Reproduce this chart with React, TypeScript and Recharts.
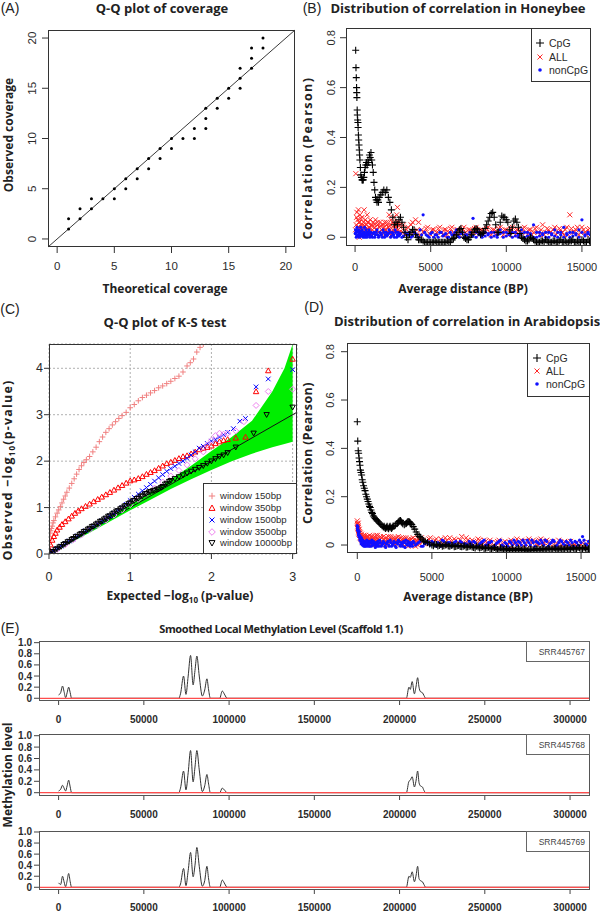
import React from 'react';
import { ScatterChart, ComposedChart, LineChart, Scatter, Line, Area, XAxis, YAxis, CartesianGrid, ReferenceLine } from 'recharts';

type Pt = [number, number];

// ---------- Panel A: Q-Q plot of coverage ----------
const qqCoverage: Pt[] = [[1,1],[1,2],[2,2],[2,3],[3,3],[3,4],[4,4],[5,4],[5,5],[6,5],[6,6],[7,6],[7,7],[8,7],[8,8],[9,8],[9,9],[10,9],[10,10],[11,10],[12,10],[12,11],[13,11],[13,12],[13,13],[14,13],[14,14],[15,14],[15,15],[16,15],[16,16],[16,17],[17,17],[17,18],[17,19],[18,19],[18,20]];
const ticksA = [0, 5, 10, 15, 20];

// ---------- Panel B: Honeybee ----------
const cpgBee: Pt[] = [[40,0.75],[60,0.68],[80,0.64],[100,0.6],[110,0.58],[120,0.56],[140,0.51],[150,0.49],[170,0.47],[190,0.46],[200,0.44],[220,0.41],[240,0.39],[260,0.37],[280,0.35],[300,0.33],[320,0.31],[350,0.28],[380,0.25],[420,0.24],[460,0.23],[500,0.23],[540,0.23],[580,0.24],[620,0.26],[660,0.28],[700,0.29],[750,0.3],[800,0.29],[850,0.31],[900,0.3],[950,0.33],[1000,0.32],[1050,0.34],[1100,0.31],[1150,0.29],[1200,0.26],[1250,0.22],[1300,0.19],[1350,0.16],[1400,0.15],[1450,0.14],[1500,0.15],[1550,0.14],[1600,0.16],[1700,0.17],[1800,0.18],[1900,0.19],[2000,0.18],[2100,0.19],[2200,0.16],[2300,0.14],[2400,0.11],[2500,0.08],[2600,0.05],[2700,0.06],[2800,0.05],[2900,0.07],[3000,0.08],[3100,0.06],[3200,0.04],[3300,0.02],[3400,0.0],[3500,-0.01],[3600,0.01],[3700,0.02],[3800,0.03],[3900,0.03],[4000,0.01],[4100,0.0],[4200,-0.01],[4400,-0.01],[4600,-0.02],[4800,-0.02],[5000,-0.02],[5200,-0.02],[5400,-0.02],[5600,-0.02],[5800,-0.02],[6000,-0.02],[6200,-0.02],[6400,-0.01],[6600,0.0],[6800,0.02],[6900,0.03],[7000,0.035],[7100,0.02],[7200,0.0],[7400,-0.01],[7600,0.0],[7800,0.02],[8000,0.035],[8200,0.02],[8300,0.01],[8500,0.02],[8700,0.05],[8900,0.08],[9000,0.095],[9100,0.1],[9200,0.08],[9300,0.05],[9400,0.02],[9500,0.02],[9600,0.06],[9700,0.085],[9800,0.08],[9900,0.08],[10000,0.07],[10100,0.06],[10200,0.03],[10300,0.015],[10400,0.04],[10500,0.065],[10600,0.073],[10700,0.06],[10800,0.04],[10900,0.015],[11000,0.0],[11200,-0.01],[11400,-0.015],[11600,0.0],[11800,-0.01],[12000,-0.02],[12200,-0.02],[12400,-0.015],[12600,-0.01],[12800,-0.02],[13000,-0.02],[13200,-0.015],[13400,-0.02],[13600,-0.01],[13800,-0.02],[14000,-0.02],[14200,-0.015],[14400,-0.01],[14600,-0.02],[14800,-0.02],[15000,-0.01],[15200,-0.02],[15400,-0.01],[15550,-0.02]];
const cpgBeeMore: Pt[] = [[4300,-0.01],[4500,-0.015],[4700,-0.02],[4900,-0.02],[5100,-0.02],[5300,-0.015],[5500,-0.02],[5700,-0.02],[5900,-0.02],[6100,-0.015],[6300,-0.02],[6500,-0.005],[6700,0.01],[7300,-0.005],[7500,-0.01],[7700,0.01],[7900,0.03],[8100,0.03],[8400,0.015],[8600,0.035],[8800,0.065],[11100,-0.005],[11300,-0.015],[11500,-0.01],[11700,-0.005],[11900,-0.015],[12100,-0.02],[12300,-0.015],[12500,-0.02],[12700,-0.015],[12900,-0.02],[13100,-0.015],[13300,-0.02],[13500,-0.015],[13700,-0.02],[13900,-0.015],[14100,-0.02],[14300,-0.015],[14500,-0.02],[14700,-0.015],[14900,-0.02],[15100,-0.015],[15300,-0.02],[15500,-0.015]];
const allBee: Pt[] = [[50,0.255],[80,0.05],[120,0.1],[150,0.02],[180,0.07],[220,0.11],[250,0.04],[280,0.0],[300,0.06],[330,0.09],[360,0.03],[400,0.05],[430,0.01],[460,0.08],[500,0.04],[530,0.02],[560,0.06],[600,0.11],[640,0.03],[680,0.07],[720,0.01],[760,0.05],[800,0.09],[840,0.03],[880,0.06],[920,0.02],[960,0.04],[1000,0.07],[1050,0.01],[1100,0.05],[1150,0.03],[1200,0.06],[1250,0.02],[1300,0.04],[1350,0.07],[1400,0.01],[1450,0.03],[1500,0.05],[1550,0.02],[1600,0.04],[1650,0.06],[1700,0.01],[1750,0.03],[1800,0.05],[1850,0.02],[1900,0.04],[1950,0.06],[2000,0.01],[2050,0.03],[2100,0.05],[2150,0.02],[2200,0.04],[2250,0.09],[2300,0.03],[2350,0.05],[2400,0.01],[2450,0.06],[2500,0.03],[2550,0.08],[2600,0.02],[2650,0.05],[2700,0.04],[2750,0.09],[2800,0.12],[2850,0.03],[2900,0.06],[2950,0.02],[3000,0.04],[3100,0.02],[3200,0.05],[3300,0.01],[3400,0.03],[3500,0.04],[3600,0.02],[3700,0.05],[3800,0.06],[3900,0.02],[4000,0.07],[4100,0.03],[4200,0.06],[4300,0.01],[4400,0.03],[4600,0.02],[4800,0.04],[5000,0.01],[5200,0.03],[5400,0.02],[5600,0.04],[5800,0.01],[6000,0.03],[6200,0.02],[6400,0.04],[6600,0.01],[6800,0.03],[7000,0.02],[7200,0.04],[7400,0.01],[7600,0.03],[7800,0.02],[8000,0.04],[8200,0.01],[8400,0.03],[8600,0.02],[8800,0.04],[9000,0.01],[9200,0.03],[9400,0.02],[9600,0.04],[9800,0.01],[10000,0.03],[10200,0.02],[10400,0.04],[10600,0.01],[10800,0.03],[11000,0.02],[11200,0.04],[11400,0.01],[11600,0.03],[11800,0.02],[12000,0.04],[12200,0.01],[12400,0.05],[12600,0.02],[12800,0.03],[13000,0.01],[13200,0.04],[13400,0.02],[13600,0.03],[13800,0.01],[14000,0.04],[14200,0.09],[14400,0.02],[14600,0.03],[14800,0.01],[15000,0.04],[15200,0.02],[15400,0.03]];
const allBeeMore: Pt[] = [[30,0.03],[100,0.08],[170,0.04],[240,0.06],[310,0.02],[380,0.075],[450,0.03],[520,0.05],[590,0.015],[660,0.045],[740,0.03],[820,0.06],[900,0.04],[980,0.02],[1080,0.045],[1180,0.015],[1280,0.05],[1380,0.03],[1480,0.06],[1580,0.02],[1680,0.045],[1780,0.015],[1880,0.05],[1980,0.03],[2080,0.06],[2180,0.02],[2280,0.045],[2380,0.07],[2480,0.02],[2580,0.05],[2680,0.03],[2780,0.06],[2880,0.02],[2980,0.05],[4500,0.02],[4700,0.035],[4900,0.015],[5100,0.03],[5300,0.01],[5500,0.035],[5700,0.02],[5900,0.03],[6100,0.01],[6300,0.035],[6500,0.02],[6700,0.03],[6900,0.01],[7100,0.035],[7300,0.02],[7500,0.03],[7700,0.01],[7900,0.035],[8100,0.02],[8300,0.03],[8500,0.01],[8700,0.035],[8900,0.02],[9100,0.03],[9300,0.01],[9500,0.035],[9700,0.02],[9900,0.03],[10100,0.01],[10300,0.035],[10500,0.02],[10700,0.03],[10900,0.01],[11100,0.035],[11300,0.02],[11500,0.03],[11700,0.01],[11900,0.035],[12100,0.02],[12300,0.03],[12500,0.01],[12700,0.035],[12900,0.02],[13100,0.03],[13300,0.01],[13500,0.035],[13700,0.02],[13900,0.03],[14100,0.01],[14300,0.035],[14500,0.02],[14700,0.04],[14900,0.02],[15100,0.03],[15300,0.01],[15500,0.035]];
const nonCpgBee: Pt[] = [[30,0.03],[80,0.0],[130,0.04],[180,0.01],[230,0.03],[280,0.0],[330,0.02],[380,0.04],[430,0.01],[480,0.03],[530,0.0],[580,0.02],[630,0.04],[680,0.01],[730,0.03],[780,0.0],[830,0.02],[880,0.01],[930,0.03],[980,0.0],[1050,0.02],[1150,0.0],[1250,0.02],[1350,0.01],[1450,0.03],[1550,0.0],[1650,0.02],[1750,0.01],[1850,0.03],[1950,0.0],[2050,0.02],[2150,0.01],[2250,0.03],[2350,0.0],[2450,0.02],[2550,0.01],[2650,0.03],[2750,0.0],[2850,0.02],[2950,0.01],[3100,0.0],[3300,0.02],[3500,0.01],[3700,0.0],[3900,0.02],[4100,0.01],[4300,0.03],[4500,0.09],[4700,0.01],[4900,0.0],[5100,0.02],[5300,0.01],[5500,0.0],[5700,0.02],[5900,0.01],[6100,0.0],[6300,0.02],[6500,0.01],[6700,0.03],[6900,0.0],[7100,0.02],[7300,0.01],[7500,0.0],[7800,0.076],[8000,0.02],[8200,0.01],[8400,0.0],[8600,0.02],[8800,0.01],[9000,0.0],[9200,0.02],[9400,0.01],[9600,0.03],[9800,0.0],[10000,0.02],[10200,0.01],[10400,0.0],[10600,0.02],[10800,0.01],[11000,0.03],[11200,0.0],[11400,0.02],[11600,0.01],[11800,0.05],[12000,0.0],[12200,0.02],[12400,0.01],[12600,0.0],[12800,0.02],[13000,0.01],[13200,0.03],[13400,0.0],[13600,0.02],[13800,0.04],[14000,0.01],[14200,0.0],[14400,0.02],[14600,0.01],[14800,0.03],[15000,0.07],[15200,0.01],[15400,0.02]];
const nonCpgBeeMore: Pt[] = [[10,0.015],[55,0.02],[105,0.005],[155,0.025],[205,0.01],[255,0.02],[305,0.005],[355,0.015],[405,0.025],[455,0.005],[505,0.015],[555,0.01],[605,0.02],[655,0.0],[705,0.015],[755,0.02],[805,0.005],[855,0.015],[905,0.02],[955,0.01],[1000,0.015],[1100,0.005],[1200,0.015],[1300,0.0],[1400,0.02],[1500,0.01],[1600,0.005],[1700,0.015],[1800,0.0],[1900,0.02],[2000,0.01],[2100,0.005],[2200,0.015],[2300,0.02],[2400,0.005],[2500,0.015],[2600,0.0],[2700,0.02],[2800,0.01],[2900,0.005],[3000,0.015],[3200,0.005],[3400,0.015],[3600,0.02],[3800,0.005],[4000,0.015],[4200,0.0],[4400,0.01],[4600,0.02],[4800,0.005],[5000,0.015],[5200,0.0],[5400,0.01],[5600,0.02],[5800,0.005],[6000,0.015],[6200,0.0],[6400,0.01],[6600,0.02],[6800,0.005],[7000,0.015],[7200,0.0],[7400,0.01],[7600,0.02],[7800,0.005],[8000,0.0],[8200,0.02],[8400,0.01],[8600,0.005],[8800,0.015],[9000,0.02],[9200,0.005],[9400,0.0],[9600,0.015],[9800,0.02],[10000,0.005],[10200,0.015],[10400,0.02],[10600,0.005],[10800,0.0],[11000,0.015],[11200,0.02],[11400,0.005],[11600,0.015],[11800,0.0],[12000,0.02],[12200,0.005],[12400,0.015],[12600,0.02],[12800,0.0],[13000,0.015],[13200,0.005],[13400,0.02],[13600,0.01],[13800,0.0],[14000,0.015],[14200,0.02],[14400,0.005],[14600,0.015],[14800,0.0],[15000,0.02],[15200,0.005],[15400,0.015],[15550,0.01]];
const ticksDist = [0, 5000, 10000, 15000];
const ticksCorr = [0, 0.2, 0.4, 0.6, 0.8];

// ---------- Panel C: Q-Q plot of K-S test ----------
const win150: Pt[] = [[0.003,0.1],[0.005,0.2],[0.008,0.3],[0.01,0.38],[0.015,0.45],[0.02,0.5],[0.03,0.55],[0.04,0.6],[0.05,0.67],[0.06,0.72],[0.08,0.8],[0.1,0.88],[0.12,0.95],[0.14,1.02],[0.16,1.1],[0.18,1.18],[0.2,1.25],[0.22,1.33],[0.25,1.42],[0.28,1.52],[0.31,1.62],[0.34,1.72],[0.37,1.82],[0.4,1.9],[0.43,1.97],[0.46,2.03],[0.5,2.1],[0.54,2.2],[0.58,2.3],[0.62,2.42],[0.66,2.52],[0.7,2.62],[0.74,2.7],[0.78,2.78],[0.82,2.85],[0.86,2.92],[0.9,2.98],[0.95,3.05],[1.0,3.15],[1.05,3.22],[1.1,3.3],[1.15,3.37],[1.2,3.42],[1.25,3.47],[1.3,3.52],[1.35,3.58],[1.4,3.62],[1.45,3.67],[1.5,3.72],[1.55,3.78],[1.6,3.83],[1.65,3.92],[1.7,4.05],[1.74,4.12],[1.78,4.2],[1.82,4.35],[1.86,4.45],[1.9,4.52]];
const win350: Pt[] = [[0.005,0.1],[0.02,0.2],[0.04,0.3],[0.06,0.38],[0.08,0.45],[0.1,0.52],[0.13,0.58],[0.16,0.64],[0.2,0.7],[0.24,0.76],[0.28,0.82],[0.32,0.88],[0.36,0.93],[0.4,0.98],[0.45,1.03],[0.5,1.08],[0.55,1.13],[0.6,1.18],[0.65,1.23],[0.7,1.28],[0.75,1.33],[0.8,1.38],[0.85,1.43],[0.9,1.48],[0.95,1.53],[1.0,1.58],[1.05,1.6],[1.1,1.63],[1.15,1.67],[1.2,1.72],[1.25,1.76],[1.3,1.8],[1.35,1.85],[1.4,1.9],[1.45,1.95],[1.5,1.98],[1.55,2.02],[1.6,2.06],[1.65,2.1],[1.7,2.12],[1.75,2.16],[1.8,2.2],[1.85,2.25],[1.9,2.28],[1.95,2.3],[2.0,2.33],[2.05,2.38],[2.1,2.42],[2.15,2.45],[2.2,2.47],[2.3,2.5],[2.42,2.52],[2.55,3.5],[2.7,3.95],[3.0,4.2]];
const win1500: Pt[] = [[0.01,0.02],[0.05,0.06],[0.1,0.12],[0.15,0.17],[0.2,0.23],[0.25,0.28],[0.3,0.33],[0.35,0.39],[0.4,0.44],[0.45,0.5],[0.5,0.55],[0.55,0.6],[0.6,0.66],[0.65,0.71],[0.7,0.77],[0.75,0.82],[0.8,0.88],[0.85,0.94],[0.9,1.0],[0.95,1.07],[1.0,1.15],[1.05,1.22],[1.1,1.29],[1.15,1.36],[1.2,1.43],[1.25,1.5],[1.3,1.57],[1.35,1.64],[1.4,1.71],[1.45,1.78],[1.5,1.84],[1.55,1.89],[1.6,1.95],[1.65,2.0],[1.7,2.06],[1.75,2.13],[1.8,2.2],[1.85,2.28],[1.9,2.32],[1.95,2.38],[2.0,2.43],[2.05,2.46],[2.1,2.52],[2.15,2.57],[2.2,2.62],[2.27,2.7],[2.35,2.86],[2.42,2.92],[2.55,3.6],[2.7,3.77],[3.0,3.97]];
const win3500: Pt[] = [[0.02,0.02],[0.1,0.1],[0.2,0.2],[0.3,0.31],[0.4,0.41],[0.5,0.52],[0.6,0.62],[0.7,0.73],[0.8,0.84],[0.9,0.95],[1.0,1.06],[1.1,1.18],[1.2,1.3],[1.3,1.42],[1.4,1.55],[1.5,1.68],[1.6,1.8],[1.7,1.92],[1.8,2.05],[1.9,2.2],[1.95,2.35],[2.0,2.45],[2.05,2.55],[2.1,2.6],[2.15,2.58],[2.2,2.6],[2.3,2.65],[2.4,2.85],[2.55,3.2],[2.7,3.5],[3.0,3.55]];
const win10000: Pt[] = [[0.01,0.01],[0.05,0.05],[0.1,0.11],[0.15,0.16],[0.2,0.22],[0.25,0.27],[0.3,0.33],[0.35,0.38],[0.4,0.44],[0.45,0.49],[0.5,0.55],[0.55,0.6],[0.6,0.66],[0.65,0.71],[0.7,0.77],[0.75,0.82],[0.8,0.88],[0.85,0.93],[0.9,0.99],[0.95,1.04],[1.0,1.1],[1.05,1.15],[1.1,1.2],[1.15,1.25],[1.2,1.3],[1.25,1.34],[1.3,1.37],[1.35,1.4],[1.4,1.45],[1.45,1.52],[1.5,1.58],[1.55,1.62],[1.6,1.66],[1.65,1.7],[1.7,1.74],[1.75,1.78],[1.8,1.82],[1.85,1.86],[1.9,1.9],[1.95,1.95],[2.0,2.0],[2.05,2.05],[2.1,2.1],[2.15,2.13],[2.2,2.18],[2.3,2.3],[2.52,2.6],[2.68,3.0],[3.0,3.16]];
const win10000More: Pt[] = [[0.03,0.04],[0.08,0.09],[0.13,0.15],[0.18,0.2],[0.23,0.26],[0.28,0.31],[0.33,0.37],[0.38,0.42],[0.43,0.48],[0.48,0.53],[0.53,0.59],[0.58,0.64],[0.63,0.7],[0.68,0.75],[0.73,0.81],[0.78,0.86],[0.83,0.92],[0.88,0.97],[0.93,1.03],[0.98,1.08],[1.03,1.14],[1.08,1.19],[1.13,1.24],[1.18,1.29],[1.23,1.33],[1.28,1.36],[1.33,1.39],[1.38,1.43],[1.43,1.5],[1.48,1.56]];
const bandX = [0, 0.25, 0.5, 0.75, 1.0, 1.25, 1.5, 1.75, 2.0, 2.25, 2.5, 2.75, 2.9, 3.0];
const bandLow = [0, 0.23, 0.46, 0.7, 0.94, 1.17, 1.4, 1.61, 1.81, 2.0, 2.16, 2.3, 2.37, 2.42];
const bandHigh = [0, 0.27, 0.54, 0.8, 1.06, 1.33, 1.61, 1.9, 2.22, 2.52, 2.87, 3.5, 4.0, 4.52];
const ticksCx = [0, 1, 2, 3];
const ticksCy = [0, 1, 2, 3, 4];

// ---------- Panel D: Arabidopsis ----------
const cpgAra: Pt[] = [[0,0.51],[30,0.43],[60,0.39],[90,0.38],[120,0.36],[150,0.345],[180,0.33],[210,0.31],[250,0.3],[290,0.29],[330,0.27],[370,0.26],[420,0.245],[470,0.235],[520,0.225],[570,0.21],[620,0.2],[670,0.19],[720,0.18],[770,0.17],[820,0.16],[870,0.155],[920,0.145],[970,0.135],[1020,0.13],[1080,0.12],[1140,0.115],[1200,0.11],[1270,0.105],[1340,0.1],[1420,0.095],[1500,0.09],[1580,0.085],[1660,0.08],[1750,0.075],[1850,0.072],[1950,0.074],[2050,0.07],[2150,0.075],[2250,0.072],[2350,0.074],[2450,0.078],[2550,0.082],[2650,0.088],[2750,0.095],[2850,0.1],[2950,0.096],[3050,0.088],[3150,0.084],[3250,0.088],[3350,0.094],[3450,0.096],[3550,0.092],[3650,0.085],[3750,0.076],[3850,0.066],[3950,0.054],[4050,0.044],[4150,0.036],[4250,0.03],[4350,0.024],[4450,0.018],[4550,0.014],[4700,0.01],[4850,0.004],[5000,0.0],[5200,0.003],[5400,-0.004],[5600,0.002],[5800,-0.003],[6000,0.001],[6200,-0.005],[6400,0.0],[6600,-0.006],[6800,-0.002],[7000,-0.007],[7200,-0.003],[7400,-0.008],[7600,-0.004],[7800,-0.01],[8000,-0.005],[8200,-0.012],[8400,-0.007],[8600,-0.013],[8800,-0.009],[9000,-0.016],[9200,-0.01],[9400,-0.018],[9600,-0.012],[9800,-0.02],[10000,-0.014],[10200,-0.022],[10400,-0.015],[10600,-0.021],[10800,-0.014],[11000,-0.022],[11200,-0.016],[11400,-0.024],[11600,-0.017],[11800,-0.022],[12000,-0.015],[12200,-0.021],[12400,-0.014],[12600,-0.02],[12800,-0.013],[13000,-0.019],[13200,-0.012],[13400,-0.02],[13600,-0.013],[13800,-0.019],[14000,-0.012],[14200,-0.018],[14400,-0.011],[14600,-0.017],[14800,-0.01],[15000,-0.016],[15200,-0.011],[15400,-0.018],[15550,-0.012]];
const cpgAraMore: Pt[] = [[1800,0.078],[1900,0.068],[2000,0.078],[2100,0.067],[2200,0.078],[2300,0.068],[2400,0.079],[2700,0.09],[2800,0.098],[2900,0.102],[3000,0.092],[3300,0.09],[3400,0.097],[3500,0.095],[3600,0.088],[5100,-0.003],[5300,0.002],[5500,-0.002],[5700,-0.005],[5900,0.0],[6100,-0.004],[6300,-0.002],[6500,-0.007],[6700,-0.003],[6900,-0.006],[7100,-0.005],[7300,-0.009],[7500,-0.005],[7700,-0.008],[7900,-0.012],[8100,-0.008],[8300,-0.01],[8500,-0.015],[8700,-0.011],[8900,-0.014],[9100,-0.012],[9300,-0.016],[9500,-0.02],[9700,-0.016],[9900,-0.018],[10100,-0.02],[10300,-0.017],[10500,-0.022],[10700,-0.018],[10900,-0.02],[11100,-0.019],[11300,-0.021],[11500,-0.018],[11700,-0.02],[11900,-0.019],[12100,-0.017],[12300,-0.019],[12500,-0.016],[12700,-0.018],[12900,-0.016],[13100,-0.017],[13300,-0.015],[13500,-0.017],[13700,-0.015],[13900,-0.016],[14100,-0.014],[14300,-0.016],[14500,-0.013],[14700,-0.015],[14900,-0.012],[15100,-0.014],[15300,-0.013],[15500,-0.015]];
const allAra: Pt[] = [[0,0.1],[20,0.085],[40,0.07],[60,0.09],[80,0.06],[100,0.05],[130,0.065],[160,0.04],[200,0.05],[240,0.03],[280,0.045],[320,0.02],[360,0.035],[400,0.01],[450,0.03],[500,0.015],[550,0.04],[600,0.02],[650,0.035],[700,0.005],[760,0.025],[820,0.04],[880,0.01],[940,0.03],[1000,0.0],[1070,0.02],[1140,0.035],[1210,0.01],[1280,0.025],[1350,0.04],[1420,0.005],[1500,0.02],[1600,0.03],[1700,0.01],[1800,0.025],[1900,0.0],[2000,0.02],[2100,0.035],[2200,0.01],[2300,0.025],[2400,0.005],[2500,0.02],[2600,0.03],[2700,0.01],[2800,0.025],[2900,0.0],[3000,0.02],[3100,0.03],[3200,0.01],[3300,0.02],[3400,-0.005],[3500,0.015],[3600,0.025],[3700,0.005],[3800,0.02],[3900,-0.005],[4000,0.015],[4100,0.025],[4200,0.005],[4400,0.02],[4600,0.01],[4800,0.025],[5000,0.005],[5200,0.02],[5400,0.01],[5600,0.025],[5800,0.0],[6000,0.02],[6200,0.03],[6400,0.005],[6600,0.02],[6800,0.01],[7000,0.035],[7200,0.005],[7400,0.02],[7600,0.0],[7800,0.015],[8000,0.005],[8200,0.02],[8400,-0.005],[8600,0.015],[8800,0.0],[9000,0.01],[9200,-0.01],[9400,0.015],[9600,0.0],[9800,0.01],[10000,-0.01],[10200,0.01],[10400,-0.005],[10600,0.015],[10800,0.0],[11000,0.02],[11200,-0.005],[11400,0.015],[11600,0.0],[11800,0.02],[12000,0.005],[12200,0.02],[12400,0.0],[12600,0.015],[12800,-0.005],[13000,0.01],[13200,-0.01],[13400,0.005],[13600,-0.01],[13800,0.005],[14000,-0.01],[14200,0.01],[14400,-0.005],[14600,0.0],[14800,-0.01],[15000,0.005],[15200,-0.01],[15400,0.0]];
const allAraMore: Pt[] = [[10,0.09],[30,0.075],[50,0.08],[70,0.065],[90,0.055],[115,0.045],[145,0.055],[180,0.03],[220,0.04],[260,0.025],[300,0.035],[340,0.01],[380,0.025],[425,0.04],[475,0.02],[525,0.03],[575,0.01],[625,0.03],[675,0.015],[730,0.035],[790,0.01],[850,0.025],[910,0.015],[970,0.035],[1035,0.01],[1105,0.03],[1175,0.02],[1245,0.04],[1315,0.015],[1385,0.025],[1460,0.01],[1550,0.035],[1650,0.015],[1750,0.035],[1850,0.01],[1950,0.03],[2050,0.005],[2150,0.02],[2250,0.035],[2350,0.015],[2450,0.03],[2550,0.005],[2650,0.02],[2750,0.035],[2850,0.015],[2950,0.03],[3050,0.005],[3150,0.02],[3250,0.03],[3350,0.005],[3450,0.025],[3550,0.0],[3650,0.015],[3750,0.03],[3850,0.01],[3950,0.02],[4050,0.0],[4150,0.015],[4300,0.03],[4500,0.005],[4700,0.015],[4900,0.03],[5100,0.01],[5300,0.025],[5500,0.0],[5700,0.015],[5900,0.03],[6100,0.005],[6300,0.015],[6500,0.025],[6700,0.0],[6900,0.02],[7100,0.01],[7300,0.03],[7500,0.005],[7700,0.02],[7900,0.01],[8100,0.025],[8300,0.0],[8500,0.02],[8700,0.01],[8900,0.02],[9100,-0.005],[9300,0.01],[9500,0.02],[9700,-0.005],[9900,0.015],[10100,0.0],[10300,0.02],[10500,0.005],[10700,0.025],[10900,0.01],[11100,0.015],[11300,0.005],[11500,0.025],[11700,0.01],[11900,0.015],[12100,0.0],[12300,0.025],[12500,0.01],[12700,0.02],[12900,0.005],[13100,0.015],[13300,0.0],[13500,0.02],[13700,0.0],[13900,0.015],[14100,-0.005],[14300,0.015],[14500,0.005],[14700,0.01],[14900,-0.005],[15100,0.01],[15300,0.0],[15500,0.01]];
const nonCpgAra: Pt[] = [[0,0.08],[25,0.06],[50,0.075],[75,0.05],[100,0.04],[130,0.055],[160,0.03],[200,0.035],[240,0.015],[280,0.03],[320,0.005],[370,0.02],[420,0.0],[470,0.015],[520,-0.005],[580,0.01],[640,0.02],[700,0.0],[770,0.015],[840,-0.005],[910,0.01],[980,0.02],[1050,0.0],[1130,0.01],[1210,-0.01],[1290,0.005],[1370,0.015],[1450,-0.005],[1550,0.01],[1650,0.0],[1750,0.015],[1850,-0.005],[1950,0.005],[2050,0.015],[2150,-0.005],[2250,0.01],[2350,0.0],[2450,0.015],[2550,-0.005],[2650,0.01],[2750,0.02],[2850,0.0],[2950,0.01],[3050,-0.005],[3150,0.01],[3250,0.02],[3350,0.0],[3450,0.01],[3550,-0.005],[3650,0.005],[3750,0.015],[3900,0.0],[4100,0.01],[4300,-0.005],[4500,0.005],[4700,0.015],[4900,0.0],[5100,0.01],[5300,-0.005],[5500,0.005],[5700,0.02],[5900,0.0],[6100,0.01],[6300,-0.005],[6500,0.01],[6700,0.0],[6900,0.015],[7100,-0.005],[7300,0.005],[7500,0.015],[7700,0.0],[7900,0.01],[8100,-0.005],[8300,0.01],[8500,0.02],[8700,0.0],[8900,0.01],[9100,-0.01],[9300,0.005],[9500,0.015],[9700,0.0],[9900,0.01],[10100,-0.005],[10300,0.01],[10500,0.02],[10700,0.0],[10900,0.01],[11100,0.02],[11300,0.0],[11500,0.01],[11700,0.02],[11900,-0.005],[12100,0.01],[12300,0.02],[12500,0.0],[12700,0.015],[12900,0.005],[13100,0.02],[13300,-0.005],[13500,0.01],[13700,0.015],[13900,0.0],[14100,0.01],[14300,0.02],[14500,-0.005],[14700,0.01],[14900,0.02],[15100,0.035],[15300,0.005],[15500,0.015]];
const nonCpgAraMore: Pt[] = [[12,0.07],[38,0.065],[62,0.06],[88,0.045],[115,0.035],[145,0.04],[180,0.02],[220,0.025],[260,0.005],[300,0.02],[345,0.0],[395,0.01],[445,-0.005],[495,0.01],[550,0.005],[610,-0.005],[670,0.01],[735,-0.005],[805,0.005],[875,0.015],[945,-0.005],[1015,0.005],[1090,0.015],[1170,0.0],[1250,0.01],[1330,-0.005],[1410,0.005],[1500,0.02],[1600,-0.005],[1700,0.005],[1800,0.01],[1900,-0.01],[2000,0.01],[2100,0.0],[2200,0.02],[2300,-0.005],[2400,0.005],[2500,0.01],[2600,-0.01],[2700,0.005],[2800,0.015],[2900,-0.005],[3000,0.005],[3100,0.015],[3200,-0.01],[3300,0.005],[3400,0.015],[3500,0.0],[3600,0.01],[3700,-0.005],[3800,0.01],[4000,0.005],[4200,0.015],[4400,-0.005],[4600,0.01],[4800,0.005],[5000,0.015],[5200,0.0],[5400,0.01],[5600,-0.005],[5800,0.015],[6000,0.005],[6200,0.01],[6400,0.0],[6600,0.015],[6800,-0.005],[7000,0.01],[7200,0.005],[7400,0.0],[7600,0.01],[7800,0.015],[8000,-0.005],[8200,0.005],[8400,0.015],[8600,0.0],[8800,0.01],[9000,0.015],[9200,-0.005],[9400,0.01],[9600,0.02],[9800,-0.005],[10000,0.005],[10200,0.015],[10400,0.0],[10600,0.01],[10800,0.015],[11000,0.0],[11200,0.01],[11400,0.02],[11600,0.0],[11800,0.01],[12000,0.015],[12200,0.005],[12400,0.01],[12600,0.02],[12800,-0.005],[13000,0.01],[13200,0.015],[13400,0.0],[13600,0.02],[13800,0.005],[14000,0.015],[14200,0.0],[14400,0.01],[14600,0.015],[14800,0.0],[15000,0.01],[15200,0.02],[15400,0.0]];

// ---------- Panel E: smoothed methylation ----------
const posE = [0, 1200, 2300, 3200, 4100, 5000, 5900, 6800, 7600, 70500, 71500, 73300, 74700, 76000, 77400, 78900, 80000, 81100, 82500, 84300, 85700, 87000, 88000, 89000, 94500, 96000, 97500, 98800, 204000, 205500, 206300, 207400, 208700, 209600, 210600, 211400, 212200, 213400, 214300, 215300, 311700];
const srr445767 = [0.06, 0.1, 0.22, 0.12, 0.01, 0.1, 0.2, 0.1, 0, 0, 0.08, 0.4, 0.07, 0.4, 0.77, 0.24, 0.5, 0.76, 0.4, 0.04, 0.15, 0.35, 0.15, 0, 0, 0.13, 0.06, 0, 0, 0.2, 0.16, 0.3, 0.08, 0.2, 0.37, 0.2, 0.12, 0.1, 0.05, 0, 0];
const srr445768 = [0.03, 0.06, 0.13, 0.08, 0.03, 0.12, 0.22, 0.1, 0, 0, 0.08, 0.38, 0.05, 0.35, 0.74, 0.19, 0.45, 0.74, 0.4, 0.02, 0.12, 0.32, 0.15, 0, 0, 0.08, 0.04, 0, 0, 0.2, 0.22, 0.28, 0.1, 0.2, 0.38, 0.18, 0.12, 0.1, 0.04, 0, 0];
const srr445769 = [0.08, 0.05, 0.2, 0.1, 0.01, 0.12, 0.25, 0.1, 0, 0, 0.06, 0.34, 0.03, 0.3, 0.63, 0.19, 0.4, 0.72, 0.38, 0.02, 0.12, 0.38, 0.15, 0, 0, 0.13, 0.06, 0, 0, 0.2, 0.18, 0.28, 0.1, 0.2, 0.38, 0.16, 0.12, 0.1, 0.05, 0, 0];
const ticksEx = [0, 50000, 100000, 150000, 200000, 250000, 300000];
const ticksEy = [0, 0.2, 0.4, 0.6, 0.8, 1.0];

// ---------- helpers ----------
const FONT = "'Liberation Sans', Arial, sans-serif";
const TFONT = "'Open Sans', 'Noto Sans', sans-serif";
const INK = '#2b2b2b';
const toXY = (...arrs: Pt[][]) => arrs.flat().map(([x, y]) => ({ x, y }));

type Mark = (cx: number, cy: number) => React.ReactElement;
const plusM = (c: string, h: number, w = 1): Mark => (cx, cy) => <path d={`M${cx - h},${cy}H${cx + h}M${cx},${cy - h}V${cy + h}`} stroke={c} strokeWidth={w} fill="none" />;
const crossM = (c: string, h: number, w = 1): Mark => (cx, cy) => <path d={`M${cx - h},${cy - h}L${cx + h},${cy + h}M${cx - h},${cy + h}L${cx + h},${cy - h}`} stroke={c} strokeWidth={w} fill="none" />;
const dotM = (c: string, r: number): Mark => (cx, cy) => <circle cx={cx} cy={cy} r={r} fill={c} />;
const triUpM = (c: string, h: number): Mark => (cx, cy) => <path d={`M${cx},${cy - h}L${cx + h},${cy + h * 0.8}L${cx - h},${cy + h * 0.8}Z`} stroke={c} strokeWidth={1} fill="none" />;
const triDownM = (c: string, h: number): Mark => (cx, cy) => <path d={`M${cx},${cy + h}L${cx + h},${cy - h * 0.8}L${cx - h},${cy - h * 0.8}Z`} stroke={c} strokeWidth={1} fill="none" />;
const diamondM = (c: string, h: number): Mark => (cx, cy) => <path d={`M${cx},${cy - h}L${cx + h},${cy}L${cx},${cy + h}L${cx - h},${cy}Z`} stroke={c} strokeWidth={1} fill="none" />;
const shapeOf = (m: Mark) => (p: any) => (p && p.cx != null && p.cy != null ? m(p.cx, p.cy) : <g />);

interface Box { x: number; y: number; w: number; h: number }
interface Cont { left: number; top: number; width: number; height: number }
const layout = (c: Cont, b: Box) => ({
  margin: { top: b.y - c.top, right: c.left + c.width - (b.x + b.w), left: 0, bottom: 0 },
  yw: b.x - c.left,
  xh: c.top + c.height - (b.y + b.h),
});

const xTick = (off: number, size: number, bold = false, fmt = (v: number) => String(v)) => (p: any) => (
  <text x={p.x} y={p.y + off} textAnchor="middle" dominantBaseline="central" fontSize={size} fontFamily={FONT} fontWeight={bold ? 700 : 400} fill={INK}>{fmt(p.payload.value)}</text>
);
const yTickRot = (off: number, size: number) => (p: any) => {
  const x = p.x - off;
  return <text x={x} y={p.y} transform={`rotate(-90 ${x} ${p.y})`} textAnchor="middle" dominantBaseline="central" fontSize={size} fontFamily={FONT} fill={INK}>{String(p.payload.value)}</text>;
};
const yTickH = (off: number, size: number, bold = false, fmt = (v: number) => String(v)) => (p: any) => (
  <text x={p.x - off} y={p.y} textAnchor="end" dominantBaseline="central" fontSize={size} fontFamily={FONT} fontWeight={bold ? 700 : 400} fill={INK}>{fmt(p.payload.value)}</text>
);

const Frame = ({ b, color = '#333' }: { b: Box; color?: string }) => (
  <div style={{ position: 'absolute', left: b.x, top: b.y, width: b.w, height: b.h, border: `1px solid ${color}`, boxSizing: 'border-box', pointerEvents: 'none' }} />
);

const Txt = ({ x, y, size, bold, rot, ls = 0, family = TFONT, color = '#222', children }: any) => (
  <div style={{ position: 'absolute', left: x, top: y, transform: `translate(-50%,-50%)${rot ? ' rotate(-90deg)' : ''}`, whiteSpace: 'nowrap', fontSize: size, fontWeight: bold ? 700 : 400, fontFamily: family, color, lineHeight: 1, letterSpacing: ls }}>{children}</div>
);

const LegendBox = ({ b, items, size, symX, textX }: { b: Box; items: { label: string; y: number; mark: Mark }[]; size: number; symX: number; textX: number }) => (
  <div style={{ position: 'absolute', left: b.x, top: b.y, width: b.w, height: b.h, border: '1px solid #333', boxSizing: 'border-box', background: '#fff' }}>
    {items.map((it) => (
      <React.Fragment key={it.label}>
        <svg style={{ position: 'absolute', left: symX - b.x - 7, top: it.y - b.y - 7 }} width={12} height={12}>{it.mark(6, 6)}</svg>
        <div style={{ position: 'absolute', left: textX - b.x - 1, top: it.y - b.y - 1, transform: 'translateY(-50%)', fontSize: size, fontFamily: FONT, color: INK, whiteSpace: 'nowrap', lineHeight: 1 }}>{it.label}</div>
      </React.Fragment>
    ))}
  </div>
);

const mkCpG = plusM('#000', 3.5, 1.1);
const mkAll = crossM('#ff2a2a', 2.5, 1);
const mkNon = dotM('#1010ff', 1.6);

// ---------- panels ----------
function PanelA() {
  const c: Cont = { left: 0, top: 0, width: 300, height: 290 };
  const b: Box = { x: 48, y: 30, w: 247, h: 217 };
  const L = layout(c, b);
  return (
    <div style={{ position: 'absolute', left: c.left, top: c.top }}>
      <ScatterChart width={c.width} height={c.height} margin={L.margin}>
        <XAxis type="number" dataKey="x" domain={[-0.8, 20.8]} ticks={ticksA} interval={0} allowDataOverflow height={L.xh} axisLine={false} tickSize={6} tickMargin={0} tickLine={{ stroke: '#333' }} tick={xTick(13, 11.5)} />
        <YAxis type="number" dataKey="y" domain={[-0.8, 20.8]} ticks={ticksA} interval={0} allowDataOverflow width={L.yw} axisLine={false} tickSize={6} tickMargin={0} tickLine={{ stroke: '#333' }} tick={yTickRot(10, 11.5)} />
        <ReferenceLine segment={[{ x: -0.8, y: -0.8 }, { x: 20.8, y: 20.8 }]} stroke="#222" strokeWidth={0.9} ifOverflow="visible" />
        <Scatter data={toXY(qqCoverage)} shape={shapeOf(dotM('#000', 1.5))} isAnimationActive={false} />
      </ScatterChart>
      <Frame b={{ ...b, x: b.x - c.left, y: b.y - c.top }} />
    </div>
  );
}

function DistPanel({ c, b, xDom, yDom, cpg, all, non, legendBox, legendYs, symX, textX, xOff, yOff }: any) {
  const L = layout(c, b);
  return (
    <div style={{ position: 'absolute', left: c.left, top: c.top, width: c.width, height: c.height }}>
      <ScatterChart width={c.width} height={c.height} margin={L.margin}>
        <XAxis type="number" dataKey="x" domain={xDom} ticks={ticksDist} interval={0} allowDataOverflow height={L.xh} axisLine={false} tickSize={6} tickMargin={0} tickLine={{ stroke: '#333' }} tick={xTick(xOff, 11)} />
        <YAxis type="number" dataKey="y" domain={yDom} ticks={ticksCorr} interval={0} allowDataOverflow width={L.yw} axisLine={false} tickSize={6} tickMargin={0} tickLine={{ stroke: '#333' }} tick={yTickRot(yOff, 11)} />
        <Scatter data={all} shape={shapeOf(mkAll)} isAnimationActive={false} />
        <Scatter data={non} shape={shapeOf(mkNon)} isAnimationActive={false} />
        <Scatter data={cpg} shape={shapeOf(mkCpG)} isAnimationActive={false} />
      </ScatterChart>
      <Frame b={{ x: b.x - c.left, y: b.y - c.top, w: b.w, h: b.h }} />
      <LegendBox b={{ x: legendBox.x - c.left, y: legendBox.y - c.top, w: legendBox.w, h: legendBox.h }} size={10.5} symX={symX - c.left} textX={textX - c.left}
        items={[{ label: 'CpG', y: legendYs[0] - c.top, mark: plusM('#000', 4, 1.1) }, { label: 'ALL', y: legendYs[1] - c.top, mark: mkAll }, { label: 'nonCpG', y: legendYs[2] - c.top, mark: dotM('#1010ff', 1.8) }]} />
    </div>
  );
}

function PanelC() {
  const c: Cont = { left: 0, top: 290, width: 300, height: 310 };
  const b: Box = { x: 49, y: 344, w: 248, h: 210 };
  const L = layout(c, b);
  const band = bandX.map((x, i) => ({ x, band: [bandLow[i], bandHigh[i]] }));
  const mk150 = plusM('#f08080', 2.8, 1);
  const mk350 = triUpM('#ff0000', 2.7);
  const mk1500 = crossM('#0000ff', 2.3, 1);
  const mk3500 = diamondM('#ee82ee', 3);
  const mk10000 = triDownM('#000', 2.7);
  return (
    <div style={{ position: 'absolute', left: c.left, top: c.top, width: c.width, height: c.height }}>
      <ComposedChart width={c.width} height={c.height} margin={L.margin}>
        <CartesianGrid stroke="#b0b0b0" strokeDasharray="2 2" />
        <XAxis type="number" dataKey="x" domain={[0, 3.054]} ticks={ticksCx} interval={0} allowDataOverflow height={L.xh} axisLine={false} tickSize={5} tickMargin={0} tickLine={{ stroke: '#333' }} tick={xTick(18, 12.5)} />
        <YAxis type="number" dataKey="y" domain={[0, 4.523]} ticks={ticksCy} interval={0} allowDataOverflow width={L.yw} axisLine={false} tickSize={5} tickMargin={0} tickLine={{ stroke: '#333' }} tick={yTickH(1, 12.5)} />
        <Area data={band} dataKey="band" type="linear" fill="#00ee00" fillOpacity={1} stroke="none" isAnimationActive={false} />
        <ReferenceLine segment={[{ x: 0, y: 0 }, { x: 3.054, y: 3.054 }]} stroke="#111" strokeWidth={1} ifOverflow="visible" />
        <Scatter data={toXY(win150)} shape={shapeOf(mk150)} isAnimationActive={false} />
        <Scatter data={toXY(win350)} shape={shapeOf(mk350)} isAnimationActive={false} />
        <Scatter data={toXY(win1500)} shape={shapeOf(mk1500)} isAnimationActive={false} />
        <Scatter data={toXY(win3500)} shape={shapeOf(mk3500)} isAnimationActive={false} />
        <Scatter data={toXY(win10000, win10000More)} shape={shapeOf(mk10000)} isAnimationActive={false} />
      </ComposedChart>
      <Frame b={{ x: b.x - c.left, y: b.y - c.top, w: b.w, h: b.h }} />
      <LegendBox b={{ x: 203 - c.left, y: 483 - c.top, w: 94, h: 71 }} size={9.6} symX={212 - c.left} textX={220 - c.left}
        items={[
          { label: 'window 150bp', y: 496 - c.top, mark: plusM('#f08080', 3.2, 1) },
          { label: 'window 350bp', y: 508 - c.top, mark: triUpM('#ff0000', 3) },
          { label: 'window 1500bp', y: 520 - c.top, mark: crossM('#0000ff', 2.5, 1) },
          { label: 'window 3500bp', y: 531.5 - c.top, mark: diamondM('#ee82ee', 3.3) },
          { label: 'window 10000bp', y: 543 - c.top, mark: triDownM('#000', 3) },
        ]} />
    </div>
  );
}

function PanelE({ c, b, yDom, values, name, xOff }: any) {
  const L = layout(c, b);
  const data = posE.map((x, i) => ({ x, y: values[i] }));
  const fmt = (v: number) => (v === 0 ? '0' : v.toFixed(1));
  return (
    <div style={{ position: 'absolute', left: c.left, top: c.top, width: c.width, height: c.height }}>
      <LineChart width={c.width} height={c.height} margin={L.margin} data={data}>
        <XAxis type="number" dataKey="x" domain={[-11500, 311700]} ticks={ticksEx} interval={0} allowDataOverflow height={L.xh} axisLine={false} tickSize={4} tickMargin={0} tickLine={{ stroke: '#444' }} tick={xTick(xOff, 10, true)} />
        <YAxis type="number" domain={yDom} ticks={ticksEy} interval={0} allowDataOverflow width={L.yw} axisLine={false} tickSize={5} tickMargin={0} tickLine={{ stroke: '#444' }} tick={yTickH(2, 10, true, fmt)} />
        <Line dataKey="y" type="monotone" stroke="#333" strokeWidth={1} dot={false} isAnimationActive={false} />
        <ReferenceLine y={0} stroke="#ff4d4d" strokeWidth={1.2} />
      </LineChart>
      <Frame b={{ x: b.x - c.left, y: b.y - c.top, w: b.w, h: b.h }} color="#555" />
      <div style={{ position: 'absolute', left: 526 - c.left, top: b.y - c.top, width: 64, height: 21, border: '1px solid #666', boxSizing: 'border-box', background: '#fff' }}>
        <div style={{ position: 'absolute', right: 4, top: 10, transform: 'translateY(-50%)', fontSize: 8.5, fontFamily: FONT, color: '#444', lineHeight: 1 }}>{name}</div>
      </div>
    </div>
  );
}

export default function App() {
  return (
    <div style={{ position: 'absolute', left: 0, top: 0, width: 600, height: 911, background: '#fff', overflow: 'hidden' }}>
      <PanelA />
      <Txt x={10} y={8} size={14} family={FONT}>(A)</Txt>
      <Txt x={162} y={8} size={13} bold>Q-Q plot of coverage</Txt>
      <Txt x={9} y={135} size={12} bold rot>Observed coverage</Txt>
      <Txt x={165} y={289} size={12} bold>Theoretical coverage</Txt>

      <DistPanel c={{ left: 300, top: 0, width: 300, height: 290 }} b={{ x: 346, y: 28, w: 245, h: 218 }} xDom={[-600, 15600]} yDom={[-0.035, 0.839]}
        cpg={toXY(cpgBee, cpgBeeMore)} all={toXY(allBee, allBeeMore)} non={toXY(nonCpgBee, nonCpgBeeMore)}
        legendBox={{ x: 531, y: 28, w: 60, h: 54 }} legendYs={[43, 57, 70]} symX={540} textX={549} xOff={15} yOff={8.5} />
      <Txt x={312} y={8} size={14} family={FONT}>(B)</Txt>
      <Txt x={458} y={8} size={13} bold>Distribution of correlation in Honeybee</Txt>
      <Txt x={308} y={158} size={12.5} bold rot ls={1.4}>Correlation (Pearson)</Txt>
      <Txt x={463} y={289} size={12} bold>Average distance (BP)</Txt>

      <PanelC />
      <Txt x={10} y={309} size={14} family={FONT}>(C)</Txt>
      <Txt x={165} y={322} size={13} bold>Q-Q plot of K-S test</Txt>
      <Txt x={9} y={470} size={12.5} bold rot ls={1.2}>Observed −log<sub style={{ fontSize: 8 }}>10</sub>(p-value)</Txt>
      <Txt x={180} y={597} size={12} bold>Expected −log<sub style={{ fontSize: 8 }}>10</sub> (p-value)</Txt>

      <DistPanel c={{ left: 300, top: 290, width: 300, height: 310 }} b={{ x: 347, y: 343, w: 243, h: 210 }} xDom={[-690, 15600]} yDom={[-0.033, 0.836]}
        cpg={toXY(cpgAra, cpgAraMore)} all={toXY(allAra, allAraMore)} non={toXY(nonCpgAra, nonCpgAraMore)}
        legendBox={{ x: 527, y: 343, w: 63, h: 54 }} legendYs={[358, 371, 384]} symX={537} textX={546} xOff={18} yOff={11} />
      <Txt x={314} y={307} size={14} family={FONT}>(D)</Txt>
      <Txt x={467} y={321} size={13} bold>Distribution of correlation in Arabidopsis</Txt>
      <Txt x={308} y={453} size={12.5} bold rot ls={0.4}>Correlation (Pearson)</Txt>
      <Txt x={468} y={597} size={12} bold>Average distance (BP)</Txt>

      <Txt x={10} y={628} size={14} family={FONT}>(E)</Txt>
      <Txt x={281} y={628} size={11} bold ls={-0.4}>Smoothed Local Methylation Level (Scaffold 1.1)</Txt>
      <PanelE c={{ left: 0, top: 630, width: 600, height: 100 }} b={{ x: 39, y: 641, w: 551, h: 60 }} yDom={[-0.049, 1.03]} values={srr445767} name="SRR445767" xOff={14} />
      <PanelE c={{ left: 0, top: 725, width: 600, height: 95 }} b={{ x: 39, y: 734, w: 551, h: 62 }} yDom={[-0.058, 1.03]} values={srr445768} name="SRR445768" xOff={14} />
      <PanelE c={{ left: 0, top: 820, width: 600, height: 91 }} b={{ x: 39, y: 831, w: 551, h: 59 }} yDom={[-0.049, 1.018]} values={srr445769} name="SRR445769" xOff={13} />
      <Txt x={8} y={775} size={12} bold rot>Methylation level</Txt>
    </div>
  );
}
